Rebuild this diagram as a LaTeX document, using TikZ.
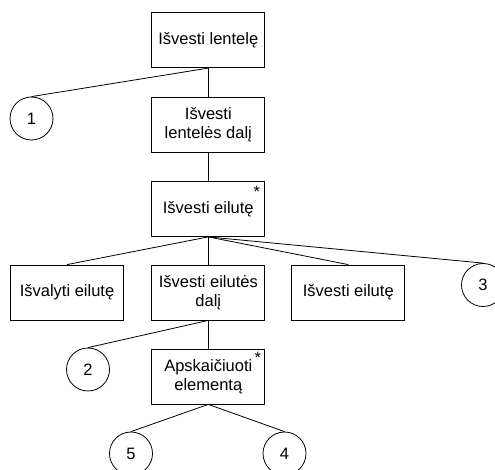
\documentclass[tikz,border=0pt]{standalone}
\usepackage{fontspec}
\setmainfont{Liberation Sans}
\usetikzlibrary{calc}
\begin{document}
\begin{tikzpicture}[x=1pt,y=-1pt,
  every node/.style={font=\fontsize{16.5}{19}\selectfont},
  proc/.style={draw, line width=0.8pt, rectangle, minimum width=113pt, minimum height=55pt, inner sep=2pt, align=center},
  conn/.style={draw, line width=0.8pt, circle, minimum size=43pt, inner sep=0pt},
  link/.style={line width=0.8pt},
  iter/.style={anchor=north east, inner sep=0pt}]
\useasboundingbox (0,0) rectangle (495,470);

% structure boxes
\node[proc] (tbl)   at (208.3,40.2)  {Išvesti lentelę};
\node[proc] (part)  at (208.3,124.5) {Išvesti\\lentelės dalį};
\node[proc] (row)   at (208.3,209)   {Išvesti eilutę};
\node[proc] (clr)   at (67,292.5)    {Išvalyti eilutę};
\node[proc] (rpart) at (208.3,292.5) {Išvesti eilutės\\dalį};
\node[proc] (rout)  at (348.3,292.5) {Išvesti eilutę};
\node[proc] (calc)  at (208.3,376.5) {Apskaičiuoti\\elementą};

% iteration marks
\node[iter] (s1) at ($(row.north east)+(-5,4.5)$) {*};
\node[iter] (s2) at ($(calc.north east)+(-4,3)$) {*};

% connectors
\node[conn] (c1) at (31.5,118.5) {1};
\node[conn] (c2) at (88,369.5)   {2};
\node[conn] (c3) at (483,285)    {3};
\node[conn] (c5) at (131,453.5)  {5};
\node[conn] (c4) at (284.5,453.5){4};

% links
\draw[link] (tbl.south) -- (c1.north);
\draw[link] (tbl.south) -- (part.north);
\draw[link] (part.south) -- (row.north);
\draw[link] (row.south) -- (clr.north);
\draw[link] (row.south) -- (rpart.north);
\draw[link] (row.south) -- (rout.north);
\draw[link] (row.south) -- (c3.north);
\draw[link] (rpart.south) -- (c2.north);
\draw[link] (rpart.south) -- (calc.north);
\draw[link] (calc.south) -- (c5.north);
\draw[link] (calc.south) -- (c4.north);
\end{tikzpicture}
\end{document}
